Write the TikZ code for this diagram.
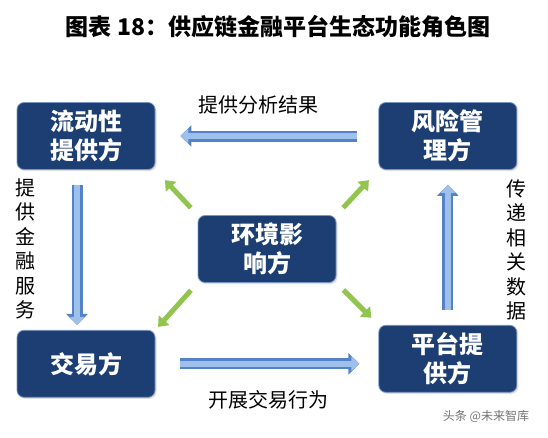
\documentclass[tikz,border=0pt]{standalone}
\usepackage{fontspec}
\usepackage{tikz}
\usetikzlibrary{positioning,arrows.meta,shadows}
\newfontfamily\cjk{Noto Sans CJK SC}

\definecolor{rolefill}{RGB}{28,62,115}
\definecolor{roleedge}{RGB}{120,150,195}
\definecolor{arrowedge}{RGB}{84,130,200}
\definecolor{arrowfill}{RGB}{160,192,236}
\definecolor{envgreen}{RGB}{146,196,80}

\tikzset{
  role/.style={rectangle, rounded corners=7pt, fill=rolefill, draw=roleedge, line width=0.8pt,
    minimum width=138pt, minimum height=67pt, text=white, align=center,
    font=\cjk\bfseries\fontsize{24pt}{29pt}\selectfont,
    drop shadow={opacity=0.25, shadow xshift=1.5pt, shadow yshift=-1.5pt}},
  flowlabel/.style={font=\cjk\fontsize{20pt}{24.5pt}\selectfont, align=center},
  blkarrow/.style={line width=11pt, draw=arrowedge, -{Triangle[length=11pt,width=21pt]},
    postaction={draw=arrowfill, line width=6pt, -{Triangle[length=8pt,width=14pt]}}},
  envarrow/.style={line width=5pt, draw=envgreen, -{Triangle[length=9pt,width=14pt]}}
}

\begin{document}
\begin{tikzpicture}[x=1pt, y=-1pt]
\useasboundingbox (0,0) rectangle (548,437);

\node[font=\cjk\bfseries\fontsize{23pt}{28pt}\selectfont] (title) at (278,27) {图表 18：供应链金融平台生态功能角色图};

\node[role]	                    (liq)	at (86,136)	{流动性\\提供方};
\node[role, right = 223pt of liq]	(risk)		{风险管\\理方};
\node[role, below = 160pt of liq]	(trade)		{交易方};
\node[role, below = 155pt of risk]	(plat)		{平台提\\供方};
\node[role]	                    (env)	at (267,249)	{环境影\\响方};

% labels
\node[flowlabel] (lbltop)   at (258,105) {提供分析结果};
\node[flowlabel] (lblbot)   at (268,400) {开展交易行为};
\node[flowlabel] (lblleft)  at (25,249)  {提\\供\\金\\融\\服\\务};
\node[flowlabel] (lblright) at (516,250) {传\\递\\相\\关\\数\\据};
\node[font=\cjk\fontsize{12pt}{14pt}\selectfont, text=black!55] (mark) at (486,416) {头条 @未来智库};

% Connect nodes
\draw[blkarrow, shorten <=21pt, shorten >=25pt] (risk.west) -- (liq.east);
\draw[blkarrow, shorten <=15pt, shorten >=5pt] ([xshift=-9pt]liq.south) -- ([xshift=-9pt]trade.north);
\draw[blkarrow, shorten <=25pt, shorten >=19pt] (trade.east) -- (trade.east -| plat.west);
\draw[blkarrow, shorten <=15pt, shorten >=15pt] (plat.north) -- (risk.south);

\draw[envarrow, shorten <=10pt, shorten >=14pt] (env.north west) -- (liq.south east);
\draw[envarrow, shorten <=10pt, shorten >=14pt] (env.north east) -- (risk.south west);
\draw[envarrow, shorten <=10pt, shorten >=4pt] (env.south west) -- (trade.north east);
\draw[envarrow, shorten <=10pt, shorten >=10pt] (env.south east) -- (plat.north west);
\end{tikzpicture}
\end{document}
